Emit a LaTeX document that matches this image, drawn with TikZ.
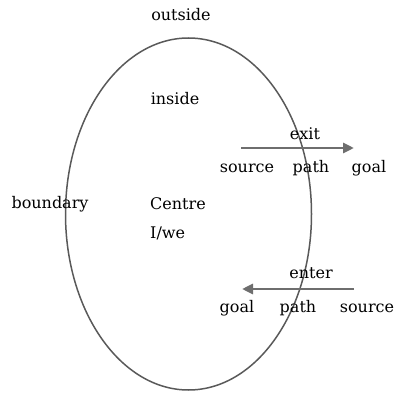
\documentclass[tikz,border=0pt]{standalone}
\usepackage{fontspec}
\setmainfont{DejaVu Serif}
\usetikzlibrary{arrows.meta}
\begin{document}
\begin{tikzpicture}[x=1pt,y=-1pt,
  lbl/.style={inner sep=0pt,font=\fontsize{16}{19}\selectfont,text=black},
  arr/.style={draw=black!57,line width=2.8pt,-{Triangle[length=11pt,width=10pt]}}]
\useasboundingbox (0,0) rectangle (396,393);
\draw[black!65,line width=1.5pt] (188.5,214) ellipse [x radius=123, y radius=176];
\node[lbl] (outside) at (181,15) {outside};
\node[lbl] (inside) at (175,99) {inside};
\node[lbl] (boundary) at (50,204) {boundary};
\node[lbl,anchor=west] (centre) at (150,204) {Centre};
\node[lbl,anchor=west] (iwe) at (150,233) {I/we};
\node[lbl] (exit) at (305,134) {exit};
\coordinate (exA) at (241,148);
\coordinate (exB) at (354,148);
\draw[arr] (exA) -- (exB);
\node[lbl] (src1) at (247,168) {source};
\node[lbl] (path1) at (311,168) {path};
\node[lbl] (goal1) at (369,168) {goal};
\node[lbl] (enter) at (311,273) {enter};
\coordinate (enA) at (354,289);
\coordinate (enB) at (242,289);
\draw[arr] (enA) -- (enB);
\node[lbl] (goal2) at (237,308) {goal};
\node[lbl] (path2) at (298,308) {path};
\node[lbl] (src2) at (367,308) {source};
\end{tikzpicture}
\end{document}
